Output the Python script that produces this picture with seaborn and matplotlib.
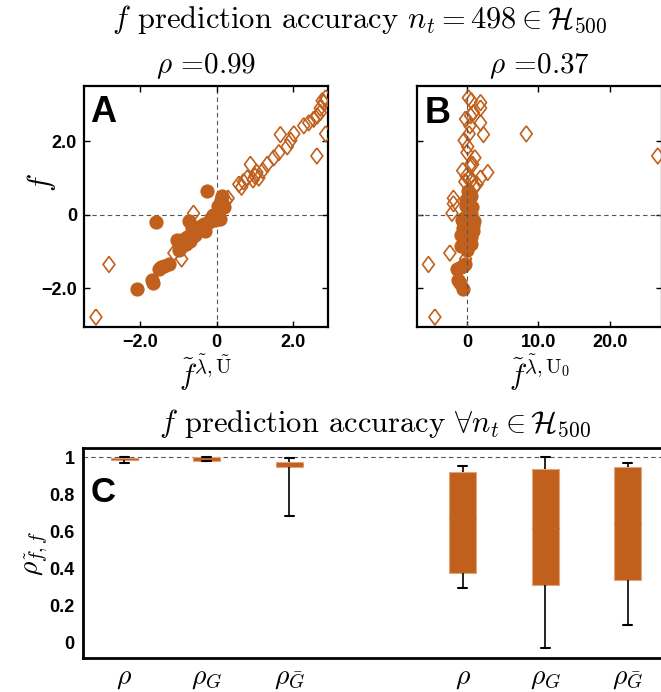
import numpy as np
import pandas as pd
import matplotlib
matplotlib.use("Agg")
import matplotlib.pyplot as plt
import seaborn as sns

# ---------------- data ----------------
# Panel A/B: filled circles (same f values, two different predictions)
circ_f = [-2.03, -1.77, -1.85, -0.19, -1.47, -1.42, -1.38, -1.33, -0.69, -0.95,
          -0.85, -0.80, -0.60, -0.16, -0.70, -0.61, -0.45, -0.55, -0.43, -0.35,
          -0.30, -0.25, -0.45, 0.65, -0.20, -0.08, 0.00, 0.02, 0.25, -0.12,
          0.51, 0.20, 0.40, -0.15, -0.65, -0.35]
circ_xA = [-2.06, -1.69, -1.65, -1.57, -1.50, -1.45, -1.37, -1.24, -1.02, -0.98,
           -0.90, -0.80, -0.76, -0.72, -0.70, -0.63, -0.60, -0.55, -0.50, -0.45,
           -0.40, -0.33, -0.30, -0.24, -0.20, -0.15, -0.10, 0.00, 0.05, 0.10,
           0.15, 0.19, 0.12, -0.05, -0.85, -0.65]
circ_xB = [-0.5, -1.2, -1.0, 0.9, -1.4, -0.9, -0.6, -0.3, 0.3, 0.0,
           -0.8, 0.5, -0.5, 1.0, -0.4, 0.6, 0.2, -0.9, 0.8, -0.6,
           0.9, -0.3, 0.4, 0.2, 0.5, -0.4, 0.1, 0.6, -0.2, 0.3,
           0.5, 0.7, -0.1, -0.7, -0.1, 0.1]
# open diamonds
diam_f = [-2.78, -1.35, -1.04, -1.20, 0.04, 0.30, 0.45, 0.38, 0.83, 0.90,
          1.00, 1.37, 1.05, 1.15, 1.00, 1.20, 1.37, 1.55, 1.69, 2.18,
          1.85, 2.02, 2.20, 2.42, 2.50, 2.60, 2.69, 2.78, 3.05, 3.18,
          2.90, 2.20, 1.60, 3.10, 0.95, 0.75]
diam_xA = [-3.14, -2.80, -1.11, -0.91, -0.60, 0.20, 0.30, 0.25, 0.58, 0.70,
           0.80, 0.88, 1.00, 1.05, 1.10, 1.20, 1.32, 1.49, 1.62, 1.66,
           1.84, 1.93, 2.01, 2.27, 2.40, 2.53, 2.62, 2.70, 2.79, 2.84,
           2.70, 2.84, 2.61, 2.75, 0.95, 0.65]
diam_xB = [-4.5, -5.4, -2.4, -0.2, -2.1, -1.9, -1.9, 0.0, 1.4, -0.3,
           1.9, 0.8, -0.1, 2.9, 0.3, -0.6, 0.5, 1.1, 0.0, 2.3,
           0.1, -0.4, 8.3, 0.4, 1.9, -0.2, 0.5, 0.9, 1.9, 0.2,
           1.9, 0.3, 26.7, 0.6, 0.7, 1.0]

rhoA = "0.99"
rhoB = "0.37"

# Panel C: box summaries [min, q1, median, q3, max]
box_labels = [r"$\rho$", r"$\rho_G$", r"$\rho_{\bar{G}}$",
              r"$\rho$", r"$\rho_G$", r"$\rho_{\bar{G}}$"]
box_pos = [0, 1, 2, 4.1, 5.1, 6.1]
box1 = [0.971, 0.986, 0.992, 0.998, 1.000]
box2 = [0.980, 0.982, 0.990, 0.999, 1.000]
box3 = [0.684, 0.950, 0.965, 0.977, 0.995]
box4 = [0.295, 0.374, 0.671, 0.921, 0.954]
box5 = [-0.030, 0.311, 0.620, 0.937, 1.000]
box6 = [0.094, 0.337, 0.640, 0.947, 0.968]
boxes = [box1, box2, box3, box4, box5, box6]

# ---------------- style ----------------
sns.set_style("white")
plt.rcParams["font.family"] = ["Liberation Sans", "DejaVu Sans"]
plt.rcParams["mathtext.fontset"] = "cm"
for k in ["text.color", "axes.labelcolor", "xtick.color", "ytick.color",
          "axes.edgecolor"]:
    plt.rcParams[k] = "black"

ORANGE = "#C0601C"
W, H = 661, 692
fig = plt.figure(figsize=(W / 100, H / 100), dpi=100)


def frac(l, t, r, b):
    return [l / W, 1 - b / H, (r - l) / W, (b - t) / H]


axA = fig.add_axes(frac(84, 86, 328, 327))
axB = fig.add_axes(frac(417, 86, 662, 327))
axC = fig.add_axes(frac(83, 448, 669, 658))

tick_font = dict(fontfamily="Liberation Sans", fontweight="bold", fontsize=13)
diamond = [(0, 1), (0.75, 0), (0, -1), (-0.75, 0), (0, 1)]

for ax, cx, dx, xl, xticks, xtl, title, xlabel, lines_on_top in [
    (axA, circ_xA, diam_xA, (-3.45, 2.9), [-2, 0, 2], ["\u22122.0", "0", "2.0"],
     r"$\rho$ =" + rhoA, r"$\tilde{f}^{\tilde{\lambda},\tilde{\mathrm{U}}}$", False),
    (axB, circ_xB, diam_xB, (-7.0, 27.3), [0, 10, 20], ["0", "10.0", "20.0"],
     r"$\rho$ =" + rhoB, r"$\tilde{f}^{\tilde{\lambda},\mathrm{U}_0}$", True),
]:
    z = 4 if lines_on_top else 0.5
    ax.axhline(0, color="#555555", ls=(0, (4, 3)), lw=0.8, zorder=z)
    ax.axvline(0, color="#555555", ls=(0, (4, 3)), lw=0.8, zorder=z)
    sns.scatterplot(x=cx, y=circ_f, ax=ax, marker="o", s=105, color=ORANGE,
                    linewidth=0, zorder=2)
    sns.scatterplot(x=dx, y=diam_f, ax=ax, marker=diamond, s=130,
                    facecolor="none", edgecolor=ORANGE, linewidth=1.2,
                    zorder=3)
    ax.collections[-1].set_facecolor("none")
    ax.collections[-1].set_edgecolor(ORANGE)
    ax.set_xlim(*xl)
    ax.set_ylim(-3.05, 3.5)
    ax.set_xticks(xticks)
    ax.set_xticklabels(xtl, **tick_font)
    ax.set_yticks([-2, 0, 2])
    if ax is axA:
        ax.set_yticklabels(["\u22122.0", "0", "2.0"], **tick_font)
    else:
        ax.set_yticklabels([])
    ax.tick_params(direction="in", length=4, width=1, top=True, right=True,
                   left=True, bottom=True, pad=5)
    for s in ax.spines.values():
        s.set_linewidth(1.6)
        s.set_color("black")
    ax.set_title(title, fontsize=21, fontfamily="cmr10", pad=9)
    ax.set_xlabel(xlabel, fontsize=21)
    ax.xaxis.set_label_coords(0.5, -0.187)
    ax.xaxis.label.set_va("center")

axA.set_ylabel(r"$f$", fontsize=22)
axA.yaxis.set_label_coords(-0.175, 0.6)
axA.yaxis.label.set_va("center")

axA.text(0.025, 0.851, "A", transform=axA.transAxes, fontsize=26,
         fontweight="bold", fontfamily="Liberation Sans")
axB.text(0.033, 0.846, "B", transform=axB.transAxes, fontsize=26,
         fontweight="bold", fontfamily="Liberation Sans")

fig.text(360 / W, 1 - 28 / H,
         r"$f$ prediction accuracy $n_t = 498 \in \mathcal{H}_{500}$",
         fontsize=22, fontfamily="cmr10", ha="center", va="baseline")

# ---------------- panel C ----------------
rows = []
for p, vals in zip(box_pos, boxes):
    for v in vals:
        rows.append({"pos": p, "value": v})
dfC = pd.DataFrame(rows)

axC.axhline(1.0, color="#555555", ls=(0, (4, 3)), lw=0.8, zorder=0.5)
sns.boxplot(data=dfC, x="pos", y="value", ax=axC, native_scale=True,
            orient="x", whis=(0, 100), width=0.33, color=ORANGE,
            linecolor="#D9925F", linewidth=0.8, fliersize=0,
            boxprops=dict(facecolor=ORANGE, edgecolor="#E3A47A", linewidth=0.8),
            medianprops=dict(color="#C26226", linewidth=0.8),
            whiskerprops=dict(color="black", linewidth=1.2),
            capprops=dict(color="black", linewidth=1.5))

# shorten caps to small ticks
for ln in axC.lines:
    xd = np.asarray(ln.get_xdata(), dtype=float)
    yd = np.asarray(ln.get_ydata(), dtype=float)
    if len(xd) == 2 and yd[0] == yd[1] and matplotlib.colors.to_hex(ln.get_color()) == "#000000":
        c = xd.mean()
        ln.set_xdata([c - 0.055, c + 0.055])

axC.set_xlim(-0.5, 6.6)
axC.set_ylim(-0.083, 1.05)
axC.set_xticks(box_pos)
axC.set_xticklabels(box_labels, fontsize=20)
axC.set_yticks([0, 0.2, 0.4, 0.6, 0.8, 1.0])
axC.set_yticklabels(["0", "0.2", "0.4", "0.6", "0.8", "1"], **tick_font)
axC.tick_params(length=0, pad=6)
axC.tick_params(axis="x", pad=5)
for s in axC.spines.values():
    s.set_linewidth(2.0)
    s.set_color("black")
axC.set_xlabel("")
axC.set_ylabel(r"$\rho_{\tilde{f},f}$", fontsize=20)
axC.yaxis.set_label_coords(-0.079, 0.5)
axC.yaxis.label.set_va("center")
axC.text(0.0137, 0.743, "C", transform=axC.transAxes, fontsize=25,
         fontweight="bold", fontfamily="Liberation Sans")
fig.text(375 / W, 1 - 432 / H,
         r"$f$ prediction accuracy $\forall n_t \in \mathcal{H}_{500}$",
         fontsize=22, fontfamily="cmr10", ha="center", va="baseline")

fig.savefig("out.png", dpi=100)
